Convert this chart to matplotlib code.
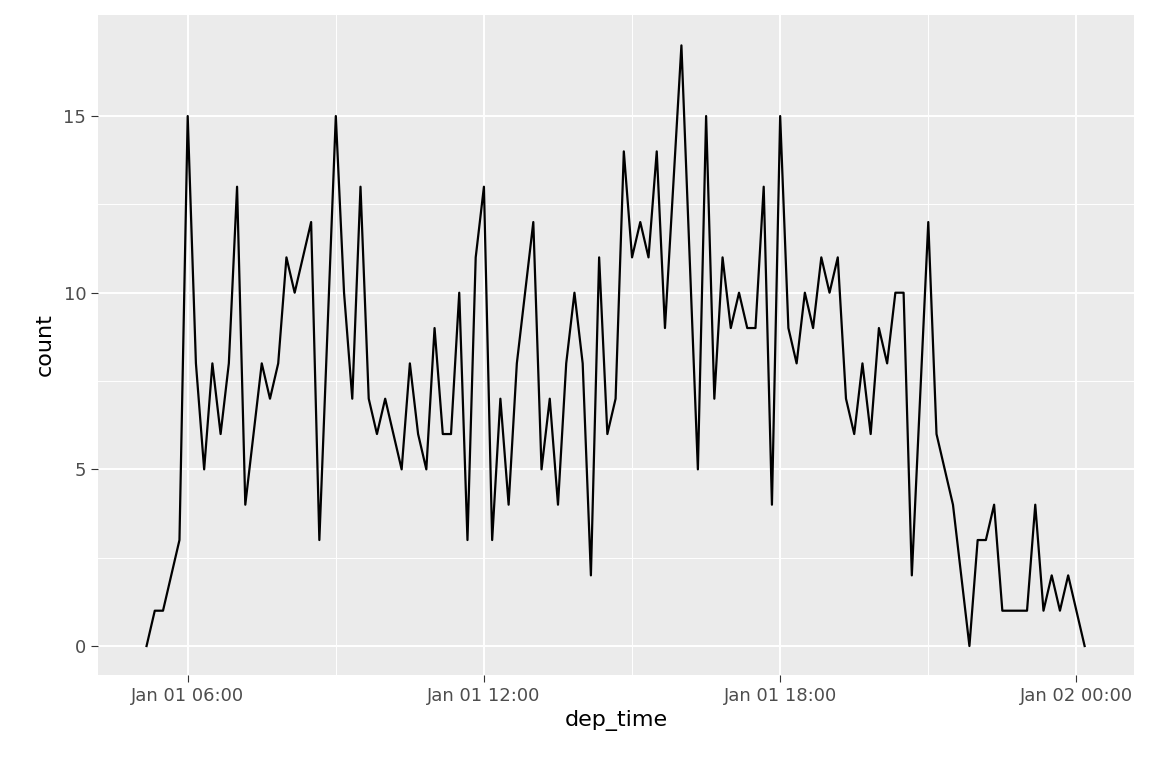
import numpy as np
import pandas as pd
import matplotlib
matplotlib.use("Agg")
import matplotlib.pyplot as plt
import matplotlib.dates as mdates

# counts of departures per 10-minute bin, Jan 01 (bin centres start 05:10)
counts = [0, 1, 1, 2, 3, 15, 8, 5, 8, 6, 8, 13, 4, 6, 8, 7, 8, 11, 10, 11,
          12, 3, 9, 15, 10, 7, 13, 7, 6, 7, 6, 5, 8, 6, 5, 9, 6, 6, 10, 3,
          11, 13, 3, 7, 4, 8, 10, 12, 5, 7, 4, 8, 10, 8, 2, 11, 6, 7, 14, 11,
          12, 11, 14, 9, 13, 17, 11, 5, 15, 7, 11, 9, 10, 9, 9, 13, 4, 15, 9, 8,
          10, 9, 11, 10, 11, 7, 6, 8, 6, 9, 8, 10, 10, 2, 7, 12, 6, 5, 4, 2,
          0, 3, 3, 4, 1, 1, 1, 1, 4, 1, 2, 1, 2, 1, 0]
dep_time = pd.date_range("2013-01-01 05:10", periods=len(counts), freq="10min")

fig = plt.figure(figsize=(11.52, 7.68), dpi=100)
ax = fig.add_axes([98/1152, 1 - 675/768, (1134-98)/1152, (675-15)/768])
ax.set_facecolor("#EBEBEB")
ax.plot(dep_time, counts, color="black", lw=1.6, zorder=3)

ax.set_xlim(pd.Timestamp("2013-01-01 04:11"), pd.Timestamp("2013-01-02 01:10"))
ax.set_ylim(-0.82, 17.86)
ax.xaxis.set_major_locator(mdates.HourLocator(byhour=[0, 6, 12, 18]))
ax.xaxis.set_minor_locator(mdates.HourLocator(byhour=[3, 9, 15, 21]))
ax.xaxis.set_major_formatter(mdates.DateFormatter("%b %d %H:%M"))
ax.set_yticks([0, 5, 10, 15])
ax.set_yticks([2.5, 7.5, 12.5], minor=True)

ax.grid(which="major", color="white", lw=1.4)
ax.grid(which="minor", color="white", lw=0.7)
ax.set_axisbelow(True)
for s in ax.spines.values():
    s.set_visible(False)
ax.tick_params(which="major", color="#333333", length=5, labelsize=13, labelcolor="#4D4D4D")
ax.tick_params(which="minor", length=0)
ax.set_xlabel("dep_time", fontsize=16, labelpad=4)
ax.set_ylabel("count", fontsize=16, labelpad=6)

fig.savefig("out.png", dpi=100)
